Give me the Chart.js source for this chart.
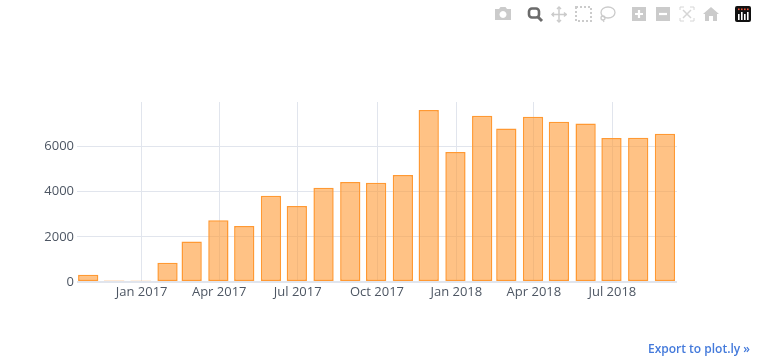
<!DOCTYPE html>
<html>
<head>
<meta charset="utf-8">
<script src="https://cdn.jsdelivr.net/npm/chart.js@4"></script>
<style>
  html, body { margin: 0; padding: 0; background: #fff; }
  #wrap { position: relative; width: 759px; height: 362px; overflow: hidden; }
  canvas { position: absolute; left: 0; top: 0; }
  #exportLink { position: absolute; right: 9px; top: 340px; font: 600 12px "Open Sans", sans-serif; color: #447adb; text-decoration: none; }
  #modebar { position: absolute; left: 0; top: 0; }
</style>
</head>
<body>
<div id="wrap">
  <canvas id="barChart" width="759" height="362"></canvas>
  <svg id="modebar" width="759" height="30" viewBox="0 0 759 30">
    <!-- camera -->
    <g fill="#cbcbcb">
      <path fill-rule="evenodd" d="M495 9h4l1.500-2h5l1.500 2h4v11h-16zM503 11a3.500 3.500 0 1 0 .01 0z"/>
    </g>
    <!-- zoom, active -->
    <g fill="none" stroke="#6b6b6b">
      <rect x="529" y="8.500" width="10" height="9" rx="3" stroke-width="2.600"/>
      <path d="M538 17l4 4" stroke-width="3"/>
    </g>
    <!-- pan -->
    <g fill="none" stroke="#cbcbcb" stroke-width="1.500">
      <path d="M559 7v15M552 14.500h15"/>
      <path d="M557 9l2-2 2 2M557 20l2 2 2-2M554 12.500l-2 2 2 2M564 12.500l2 2-2 2"/>
    </g>
    <!-- box select -->
    <rect x="576" y="7" width="15" height="14" fill="none" stroke="#cbcbcb" stroke-width="2" stroke-dasharray="2 2"/>
    <!-- lasso -->
    <g fill="none" stroke="#cbcbcb" stroke-width="1.300">
      <ellipse cx="608" cy="12.500" rx="7" ry="5.500"/>
      <circle cx="603" cy="18" r="2"/>
      <path d="M603 20l1 2"/>
    </g>
    <!-- zoom in / out -->
    <rect x="632" y="7" width="14" height="14" fill="#cbcbcb"/>
    <path d="M639 10v8M635 14h8" stroke="#fff" stroke-width="2.200"/>
    <rect x="656" y="7" width="14" height="14" fill="#cbcbcb"/>
    <path d="M659 14h8" stroke="#fff" stroke-width="2.200"/>
    <!-- autoscale -->
    <g fill="none" stroke="#d6d6d6" stroke-width="1">
      <path d="M680 10V7h4M690 7h4v3M694 18v3h-4M684 21h-4v-3"/>
      <path d="M683 10l8 8M691 10l-8 8" stroke-width="1.500"/>
    </g>
    <!-- home -->
    <path d="M711 7l8 7h-2v7h-4v-5h-4v5h-4v-7h-2z" fill="#cbcbcb"/>
    <!-- plotly logo -->
    <rect x="735" y="6" width="16" height="16" rx="2" fill="#111"/>
    <g fill="#fff">
      <rect x="738" y="14" width="1.600" height="6"/>
      <rect x="741" y="12" width="1.600" height="8"/>
      <rect x="744" y="14" width="1.600" height="6"/>
      <rect x="747" y="12" width="1.600" height="8"/>
    </g>
    <g fill="#ef553b">
      <rect x="738" y="8.500" width="1.600" height="1.600"/>
      <rect x="741" y="8.500" width="1.600" height="1.600"/>
      <rect x="744" y="8.500" width="1.600" height="1.600"/>
      <rect x="747" y="8.500" width="1.600" height="1.600"/>
    </g>
  </svg>
  <a id="exportLink" href="#">Export to plot.ly »</a>
</div>
<script>
  // bars sit a hair left of the ticks in the picture, so these are month ends
  const months = [
    '2016-10-31','2016-11-30','2016-12-31','2017-01-31','2017-02-28','2017-03-31',
    '2017-04-30','2017-05-31','2017-06-30','2017-07-31','2017-08-31','2017-09-30',
    '2017-10-31','2017-11-30','2017-12-31','2018-01-31','2018-02-28','2018-03-31',
    '2018-04-30','2018-05-31','2018-06-30','2018-07-31','2018-08-31'
  ];
  const counts = [
    320, 60, 55, 850, 1800, 2735,
    2480, 3825, 3370, 4180, 4430, 4400,
    4740, 7620, 5760, 7365, 6805, 7325,
    7100, 7030, 6380, 6395, 6570
  ];
  const tickDates = ['2017-01-01','2017-04-01','2017-07-01','2017-10-01','2018-01-01','2018-04-01','2018-07-01'];
  const tickLabels = ['Jan 2017','Apr 2017','Jul 2017','Oct 2017','Jan 2018','Apr 2018','Jul 2018'];
  const yTicks = [0, 2000, 4000, 6000];
  const xRange = ['2016-10-18','2018-09-14'];
  const yRange = [0, 7980];

  const toMs = d => Date.parse(d + 'T00:00:00Z');
  const gridColor = '#e1e5ed';
  const textColor = '#4d5663';
  const tickFont = { family: '"Open Sans", sans-serif', size: 13 };

  new Chart(document.getElementById('barChart').getContext('2d'), {
    type: 'bar',
    data: {
      datasets: [{
        data: months.map((m, i) => ({ x: toMs(m), y: counts[i] })),
        backgroundColor: 'rgba(255, 153, 51, 0.6)',
        borderColor: 'rgba(255, 153, 51, 1)',
        // a border swallows the two almost empty bars, they only get the fill
        borderWidth: ctx => (ctx.raw && ctx.raw.y < 100 ? 0 : 1.5),
        borderSkipped: false,
        barPercentage: 0.84,
        categoryPercentage: 1
      }]
    },
    options: {
      responsive: false,
      animation: false,
      events: [],
      layout: { padding: { left: 0, right: 82, top: 102, bottom: 0 } },
      plugins: { legend: { display: false }, tooltip: { enabled: false } },
      scales: {
        x: {
          type: 'linear',
          min: toMs(xRange[0]),
          max: toMs(xRange[1]),
          offset: false,
          afterBuildTicks: scale => { scale.ticks = tickDates.map(d => ({ value: toMs(d) })); },
          afterFit: scale => { scale.height = 80; },
          border: { display: false },
          grid: { color: gridColor, lineWidth: 1, drawTicks: false, offset: false },
          ticks: {
            autoSkip: false,
            maxRotation: 0,
            padding: 2,
            color: textColor,
            font: tickFont,
            callback: value => tickLabels[tickDates.findIndex(d => toMs(d) === value)]
          }
        },
        y: {
          min: yRange[0],
          max: yRange[1],
          afterBuildTicks: scale => { scale.ticks = yTicks.map(v => ({ value: v })); },
          afterFit: scale => { scale.width = 77; },
          border: { display: false },
          grid: {
            color: gridColor,
            lineWidth: ctx => (ctx.tick && ctx.tick.value === 0 ? 2 : 1),
            drawTicks: false
          },
          ticks: {
            padding: 3,
            color: textColor,
            font: tickFont,
            callback: value => String(value)
          }
        }
      }
    }
  });
</script>
</body>
</html>
